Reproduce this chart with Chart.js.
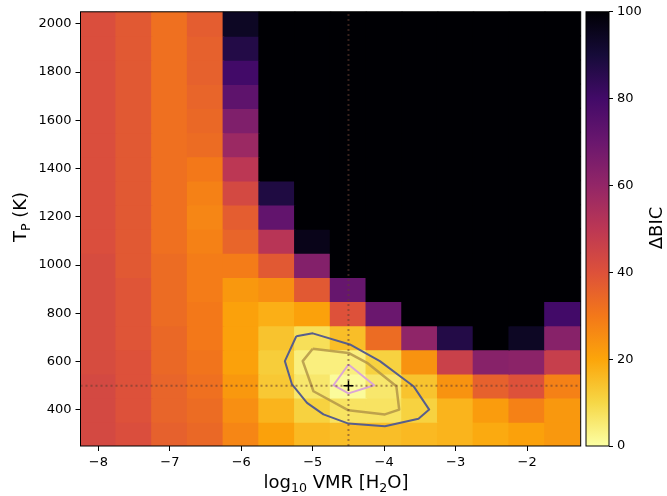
<!DOCTYPE html>
<html>
<head>
<meta charset="utf-8">
<script src="https://cdn.jsdelivr.net/npm/chart.js@4.4.0/dist/chart.umd.min.js"></script>
<style>
  body { margin: 0; background: #fff; }
  #wrap { position: relative; width: 667px; height: 496px; }
  #wrap canvas { position: absolute; left: 0; top: 0; }
</style>
</head>
<body>
<div id="wrap">
  <canvas id="heat" width="667" height="496"></canvas>
  <canvas id="cbar" width="667" height="496"></canvas>
</div>
<script>
// grid of the retrieval: log10 VMR columns, T_P rows (top row first)
const logVmr = [-8, -7.5, -7, -6.5, -6, -5.5, -5, -4.5, -4, -3.5, -3, -2.5, -2, -1.5];
const tempP = [2000, 1900, 1800, 1700, 1600, 1500, 1400, 1300, 1200, 1100, 1000, 900, 800, 700, 600, 500, 400, 300];

// delta BIC per cell, one row per tempP value (colour saturates at 100)
const deltaBic = [
  [41, 38, 32, 37, 94, 100, 100, 100, 100, 100, 100, 100, 100, 100],
  [41, 38, 32, 36, 87, 100, 100, 100, 100, 100, 100, 100, 100, 100],
  [41, 38, 32, 36, 80, 100, 100, 100, 100, 100, 100, 100, 100, 100],
  [41, 38, 32, 35, 73, 100, 100, 100, 100, 100, 100, 100, 100, 100],
  [41, 38, 32, 34, 65, 100, 100, 100, 100, 100, 100, 100, 100, 100],
  [41, 38, 32, 33, 58, 100, 100, 100, 100, 100, 100, 100, 100, 100],
  [41, 38, 32, 30, 50, 100, 100, 100, 100, 100, 100, 100, 100, 100],
  [41, 38, 32, 28, 43, 88, 100, 100, 100, 100, 100, 100, 100, 100],
  [41, 38, 32, 27, 37, 72, 100, 100, 100, 100, 100, 100, 100, 100],
  [41, 38, 32, 28, 35, 51, 96, 100, 100, 100, 100, 100, 100, 100],
  [42, 38, 33, 29, 29, 38, 64, 100, 100, 100, 100, 100, 100, 100],
  [42, 39, 33, 29, 23, 25, 38, 71, 100, 100, 100, 100, 100, 100],
  [42, 39, 33, 30, 21, 18, 21, 40, 70, 100, 100, 100, 100, 80],
  [42, 39, 34, 30, 21, 14, 8, 15, 33, 61, 87, 100, 94, 63],
  [42, 40, 34, 31, 21, 12, 4, 4, 11, 24, 46, 63, 62, 47],
  [43, 40, 35, 32, 23, 13, 6, 1, 6, 14, 24, 36, 40, 28],
  [43, 40, 35, 33, 25, 17, 11, 7, 7, 11, 17, 22, 28, 23],
  [43, 41, 36, 34, 27, 21, 16, 15, 15, 16, 17, 19, 21, 23]
];

// confidence contours [log10 VMR, T_P]
const contourOuter = [[-5.23, 705], [-5.0, 717], [-4.48, 671], [-4.06, 602], [-3.59, 498], [-3.37, 401], [-3.52, 363], [-3.99, 332], [-4.5, 343], [-4.85, 381], [-5.08, 429], [-5.29, 505], [-5.39, 602]];
const contourMid = [[-5.0, 653], [-4.5, 636], [-4.24, 595], [-3.83, 498], [-3.79, 401], [-3.99, 381], [-4.5, 398], [-4.99, 477], [-5.14, 602]];
const contourInner = [[-4.5, 588], [-4.14, 502], [-4.5, 468], [-4.71, 502]];

const bestVmr = -4.5;
const bestT = 500;

const xTicks = [-8, -7, -6, -5, -4, -3, -2];
const yTicks = [400, 600, 800, 1000, 1200, 1400, 1600, 1800, 2000];
const cbTicks = [0, 20, 40, 60, 80, 100];
const cbMax = 100;

const FONT = 'DejaVu Sans';
const INFERNO = ['#000004', '#160b39', '#420a68', '#6a176e', '#932667', '#bc3754', '#dd513a', '#f37819', '#fca50a', '#f6d746', '#fcffa4'];

const hexRgb = h => [1, 3, 5].map(i => parseInt(h.slice(i, i + 2), 16));

// inferno_r: 0 -> pale yellow, cbMax -> black
const cmap = v => {
  const t = 1 - Math.min(Math.max(v / cbMax, 0), 1);
  const s = t * (INFERNO.length - 1);
  const i = Math.min(Math.floor(s), INFERNO.length - 2);
  const f = s - i;
  const a = hexRgb(INFERNO[i]), b = hexRgb(INFERNO[i + 1]);
  const c = a.map((av, k) => Math.round(av + (b[k] - av) * f));
  return `rgb(${c[0]},${c[1]},${c[2]})`;
};

const halfX = (logVmr[1] - logVmr[0]) / 2;
const halfT = (tempP[0] - tempP[1]) / 2;
const xMin = logVmr[0] - halfX;
const xMax = logVmr[logVmr.length - 1] + halfX;
const yMin = tempP[tempP.length - 1] - halfT;
const yMax = tempP[0] + halfT;

const fmtTick = v => (v < 0 ? '\u2212' + Math.abs(v) : String(v));
const closed = pts => pts.concat([pts[0]]).map(p => ({ x: p[0], y: p[1] }));

// text with subscripts, centred on (0,0) of the current transform
const drawRich = (ctx, parts, size) => {
  const subSize = size * 0.7;
  let w = 0;
  parts.forEach(p => {
    ctx.font = `${p.sub ? subSize : size}px "${FONT}"`;
    p.w = ctx.measureText(p.t).width;
    w += p.w;
  });
  let x = -w / 2;
  ctx.textBaseline = 'alphabetic';
  ctx.textAlign = 'left';
  parts.forEach(p => {
    ctx.font = `${p.sub ? subSize : size}px "${FONT}"`;
    ctx.fillText(p.t, x, p.sub ? size * 0.36 + size * 0.18 : size * 0.36);
    x += p.w;
  });
};

const cellDatasets = tempP.map((t, r) => ({
  type: 'bar',
  data: logVmr.map(x => ({ x: x, y: [t - halfT, t + halfT] })),
  backgroundColor: deltaBic[r].map(v => cmap(v)),
  borderWidth: 0,
  inflateAmount: 0.8,
  grouped: false,
  barPercentage: 1,
  categoryPercentage: 1,
  order: 10
}));

const lineDs = (pts, color, width, order) => ({
  type: 'line',
  data: pts,
  borderColor: color,
  borderWidth: width,
  borderJoinStyle: 'round',
  pointRadius: 0,
  fill: false,
  tension: 0,
  order: order
});

const frameAndTitles = {
  id: 'frameAndTitles',
  afterDraw(chart) {
    const { ctx, chartArea: a } = chart;
    ctx.save();
    ctx.strokeStyle = '#000';
    ctx.lineWidth = 1;
    ctx.strokeRect(a.left, a.top, a.right - a.left, a.bottom - a.top);
    ctx.fillStyle = '#000';
    ctx.save();
    ctx.translate(336, 482);
    drawRich(ctx, [{ t: 'log' }, { t: '10', sub: true }, { t: ' VMR [H' }, { t: '2', sub: true }, { t: 'O]' }], 18);
    ctx.restore();
    ctx.save();
    ctx.translate(20, 217);
    ctx.rotate(-Math.PI / 2);
    drawRich(ctx, [{ t: 'T' }, { t: 'P', sub: true }, { t: ' (K)' }], 18);
    ctx.restore();
    ctx.restore();
  }
};

const axisFont = { family: FONT, size: 13 };

new Chart(document.getElementById('heat'), {
  type: 'bar',
  data: {
    datasets: [
      ...cellDatasets,
      lineDs(closed(contourOuter), '#575e8c', 2, 3),
      lineDs(closed(contourMid), 'rgba(175,145,70,0.8)', 2.5, 3),
      lineDs(closed(contourInner), '#dba6d6', 2, 3),
      Object.assign(lineDs([{ x: xMin, y: bestT }, { x: xMax, y: bestT }], 'rgba(100,60,50,0.55)', 2, 2), { borderDash: [2, 3] }),
      Object.assign(lineDs([{ x: bestVmr, y: yMin }, { x: bestVmr, y: yMax }], 'rgba(100,60,50,0.55)', 2, 2), { borderDash: [2, 3] }),
      {
        type: 'scatter',
        data: [{ x: bestVmr, y: bestT }],
        pointStyle: 'cross',
        pointRadius: 5,
        borderColor: '#000',
        borderWidth: 1.5,
        order: 1
      }
    ]
  },
  options: {
    responsive: false,
    animation: false,
    events: [],
    layout: { padding: { left: 0, top: 11, right: 86.3, bottom: 0 } },
    plugins: { legend: { display: false }, tooltip: { enabled: false } },
    scales: {
      x: {
        type: 'linear',
        min: xMin,
        max: xMax,
        offset: false,
        grid: { offset: false, drawOnChartArea: false, tickLength: 5, tickColor: '#000' },
        border: { display: false },
        ticks: { color: '#000', font: axisFont, padding: 4, maxRotation: 0, callback: v => fmtTick(v) },
        afterBuildTicks: s => { s.ticks = xTicks.map(v => ({ value: v })); },
        afterFit: s => { s.height = 50; }
      },
      y: {
        type: 'linear',
        min: yMin,
        max: yMax,
        grid: { drawOnChartArea: false, tickLength: 5, tickColor: '#000' },
        border: { display: false },
        ticks: { color: '#000', font: axisFont, padding: 4, callback: v => fmtTick(v) },
        afterBuildTicks: s => { s.ticks = yTicks.map(v => ({ value: v })); },
        afterFit: s => { s.width = 80.5; }
      }
    }
  },
  plugins: [frameAndTitles]
});

const colorbar = {
  id: 'colorbar',
  beforeDatasetsDraw(chart) {
    const { ctx, chartArea: a, scales: { y } } = chart;
    const y0 = y.getPixelForValue(0);
    const y1 = y.getPixelForValue(cbMax);
    const g = ctx.createLinearGradient(0, y0, 0, y1);
    INFERNO.forEach((c, i) => g.addColorStop(i / (INFERNO.length - 1), INFERNO[INFERNO.length - 1 - i]));
    ctx.save();
    ctx.fillStyle = g;
    ctx.fillRect(a.left, y1, a.right - a.left, y0 - y1);
    ctx.strokeStyle = '#000';
    ctx.lineWidth = 1;
    ctx.strokeRect(a.left, a.top, a.right - a.left, a.bottom - a.top);
    ctx.restore();
  },
  afterDraw(chart) {
    const { ctx } = chart;
    ctx.save();
    ctx.fillStyle = '#000';
    ctx.translate(656, 228);
    ctx.rotate(-Math.PI / 2);
    drawRich(ctx, [{ t: '\u0394BIC' }], 18);
    ctx.restore();
  }
};

new Chart(document.getElementById('cbar'), {
  type: 'scatter',
  data: { datasets: [] },
  options: {
    responsive: false,
    animation: false,
    events: [],
    layout: { padding: { left: 586, top: 11, right: 0, bottom: 50 } },
    plugins: { legend: { display: false }, tooltip: { enabled: false } },
    scales: {
      x: { display: false, min: 0, max: 1 },
      y: {
        position: 'right',
        min: 0,
        max: cbMax,
        grid: { drawOnChartArea: false, tickLength: 4, tickColor: '#000' },
        border: { display: false },
        ticks: { color: '#000', font: axisFont, padding: 4 },
        afterBuildTicks: s => { s.ticks = cbTicks.map(v => ({ value: v })); },
        afterFit: s => { s.width = 58; }
      }
    }
  },
  plugins: [colorbar]
});
</script>
</body>
</html>
